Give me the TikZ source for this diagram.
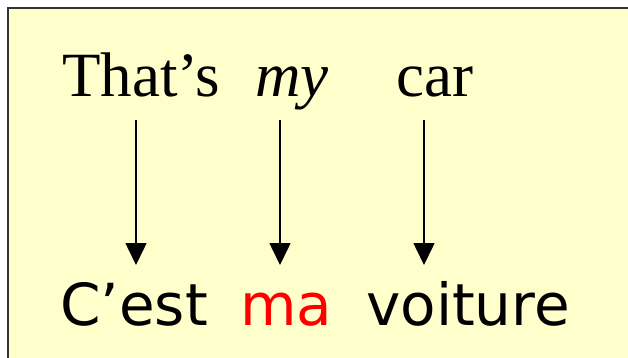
\documentclass[tikz,border=0pt]{standalone}
\usepackage{fontspec}
\setmainfont{Liberation Serif}
\newfontfamily\comicfont{DejaVu Sans}
\usetikzlibrary{arrows.meta}
\definecolor{paper}{HTML}{FFFFCC}
\definecolor{frame}{HTML}{333333}
\tikzset{
  english/.style={inner sep=0pt, anchor=base west, font=\fontsize{63}{70}\selectfont},
  french/.style={inner sep=0pt, anchor=base west, font=\comicfont\fontsize{58}{66}\selectfont},
  maparrow/.style={line width=1.6pt, -{Triangle[length=22pt,width=21pt]}},
}
\begin{document}
\begin{tikzpicture}[x=1pt,y=-1pt]
  % page and yellow panel
  \useasboundingbox (0,0) rectangle (628,358);
  \fill[white] (0,0) rectangle (628,358);
  \fill[paper] (8,8) rectangle (628,358);
  \draw[frame, line width=2pt] (8,358) -- (8,8) -- (628,8);

  % English sentence
  \node[english] (w1) at (62,97) {That’s};
  \node[english] (w2) at (255,97) {\itshape my};
  \node[english] (w3) at (396,97) {car};

  % French sentence
  \node[french] (f1) at (60,325) {C’est};
  \node[french, text=red] (f2) at (240,325) {ma};
  \node[french] (f3) at (366,325) {voiture};

  % word-to-word arrows
  \coordinate (a1s) at (136,120); \coordinate (a1e) at (136,265);
  \coordinate (a2s) at (280,120); \coordinate (a2e) at (280,265);
  \coordinate (a3s) at (424,120); \coordinate (a3e) at (424,265);
  \draw[maparrow] (a1s) -- (a1e);
  \draw[maparrow] (a2s) -- (a2e);
  \draw[maparrow] (a3s) -- (a3e);
\end{tikzpicture}
\end{document}
